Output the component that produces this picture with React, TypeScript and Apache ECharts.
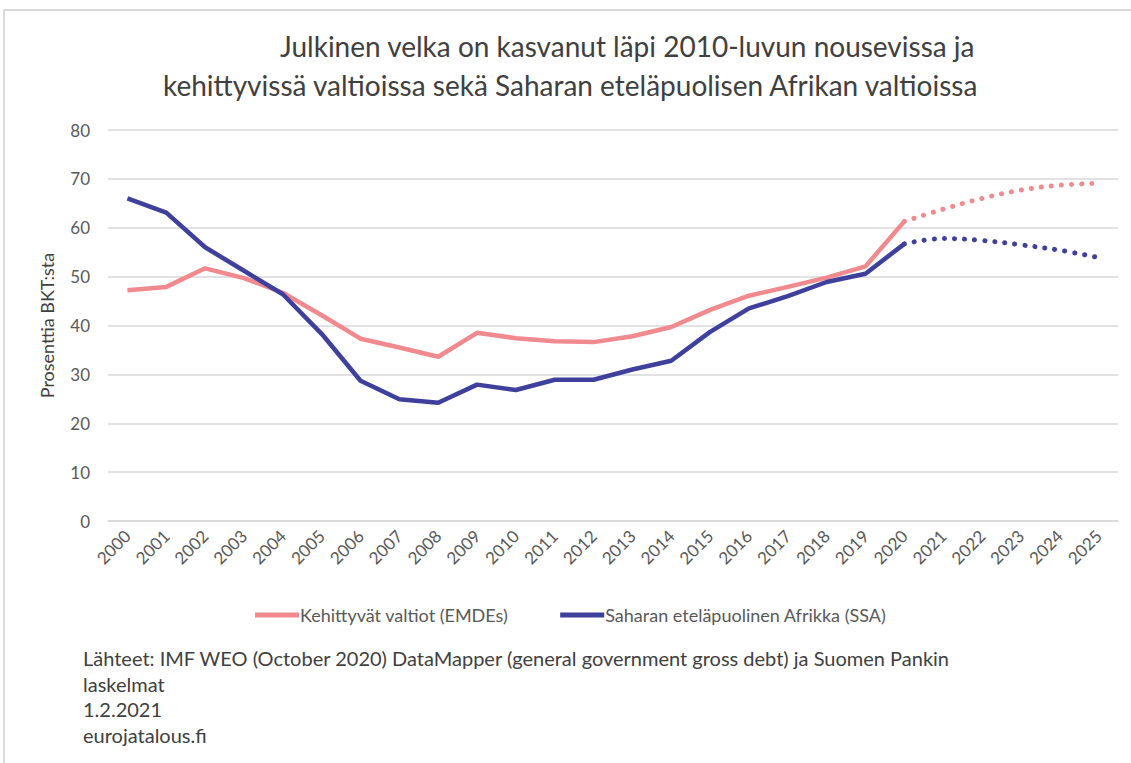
import React, { useEffect, useRef } from "react";
import * as echarts from "echarts";

const years = ["2000","2001","2002","2003","2004","2005","2006","2007","2008","2009","2010","2011","2012","2013","2014","2015","2016","2017","2018","2019","2020","2021","2022","2023","2024","2025"];
const emdeActual = [47.2,47.9,51.7,49.7,46.7,42.1,37.3,35.5,33.6,38.5,37.4,36.8,36.6,37.8,39.7,43.2,46.1,47.9,49.8,52.1,61.3,null,null,null,null,null];
const emdeForecast = [null,null,null,null,null,null,null,null,null,null,null,null,null,null,null,null,null,null,null,null,61.3,63.8,66.0,67.7,68.7,69.1];
const ssaActual = [66.0,63.1,56.0,51.2,46.4,38.3,28.7,24.9,24.2,27.9,26.8,28.9,28.9,31.0,32.8,38.7,43.5,46.0,48.9,50.6,56.7,null,null,null,null,null];
const ssaForecast = [null,null,null,null,null,null,null,null,null,null,null,null,null,null,null,null,null,null,null,null,56.7,57.8,57.4,56.5,55.4,53.9];
const yTicks = { min: 0, max: 80, interval: 10 };
const titleLines = [
  "Julkinen velka on kasvanut läpi 2010-luvun nousevissa ja",
  "kehittyvissä valtioissa sekä Saharan eteläpuolisen Afrikan valtioissa",
];
const footerLines = [
  "Lähteet: IMF WEO (October 2020) DataMapper (general government gross debt) ja Suomen Pankin",
  "laskelmat",
  "1.2.2021",
  "eurojatalous.fi",
];
const seriesNames = ["Kehittyvät valtiot (EMDEs)", "Saharan eteläpuolinen Afrikka (SSA)"];

const PINK = "#F08A8E";
const BLUE = "#3F3F9C";
const FONT = "Lato, 'Open Sans', sans-serif";

export default function App() {
  const ref = useRef<HTMLDivElement>(null);
  useEffect(() => {
    const chart = echarts.init(ref.current!, null, { renderer: "svg" });
    chart.setOption({
      animation: false,
      backgroundColor: "#ffffff",
      textStyle: { fontFamily: FONT },
      grid: { left: 108, right: 13, top: 130, bottom: 242 },
      legend: {
        left: 250,
        top: 601,
        itemWidth: 44,
        itemHeight: 5,
        itemGap: 52,
        icon: "rect",
        data: seriesNames,
        textStyle: { fontSize: 18, color: "#595959", fontFamily: FONT, padding: [0, 0, 0, -4] },
      },
      xAxis: {
        type: "category",
        data: years,
        boundaryGap: true,
        axisLine: { show: true, lineStyle: { color: "#d9d9d9", width: 1.5 } },
        axisTick: { show: false },
        axisLabel: { rotate: 45, fontSize: 17, color: "#595959", margin: 12, interval: 0, fontFamily: FONT },
      },
      yAxis: {
        type: "value",
        min: yTicks.min,
        max: yTicks.max,
        interval: yTicks.interval,
        name: "Prosenttia BKT:sta",
        nameLocation: "middle",
        nameGap: 52,
        nameTextStyle: { fontSize: 18, color: "#404040", fontFamily: FONT },
        axisLine: { show: false },
        axisTick: { show: false },
        axisLabel: { fontSize: 17, color: "#595959", margin: 18, fontFamily: FONT },
        splitLine: { lineStyle: { color: "#d9d9d9", width: 1.5 } },
      },
      series: [
        {
          name: seriesNames[0], type: "line", data: emdeActual, showSymbol: false, symbol: "none",
          lineStyle: { color: PINK, width: 4.5 }, itemStyle: { color: PINK },
        },
        {
          name: seriesNames[1], type: "line", data: ssaActual, showSymbol: false, symbol: "none",
          lineStyle: { color: BLUE, width: 4.5 }, itemStyle: { color: BLUE },
        },
        {
          name: "EMDEs ennuste", type: "line", data: emdeForecast, showSymbol: false, symbol: "none", smooth: 0.4,
          lineStyle: { color: PINK, width: 5, type: [0.1, 10], cap: "round" },
        },
        {
          name: "SSA ennuste", type: "line", data: ssaForecast, showSymbol: false, symbol: "none", smooth: 0.4,
          lineStyle: { color: BLUE, width: 5, type: [0.1, 10], cap: "round" },
        },
      ],
      graphic: [
        { type: "line", shape: { x1: 4, y1: 10, x2: 1131, y2: 10 }, style: { stroke: "#d9d9d9", lineWidth: 2 } },
        { type: "line", shape: { x1: 4, y1: 10, x2: 4, y2: 763 }, style: { stroke: "#d9d9d9", lineWidth: 2 } },
        { type: "text", left: 280, top: 32, style: { text: titleLines[0], fontSize: 28, fill: "#404040", fontFamily: FONT } },
        { type: "text", left: 163, top: 71, style: { text: titleLines[1], fontSize: 28, fill: "#404040", fontFamily: FONT } },
        ...footerLines.map((t, i) => ({
          type: "text", left: 83, top: 648 + i * 25.5,
          style: { text: t, fontSize: 20, fill: "#404040", fontFamily: FONT },
        })),
      ],
    });
    return () => chart.dispose();
  }, []);
  return <div ref={ref} style={{ position: "fixed", left: 0, top: 0, width: 1131, height: 763 }} />;
}
